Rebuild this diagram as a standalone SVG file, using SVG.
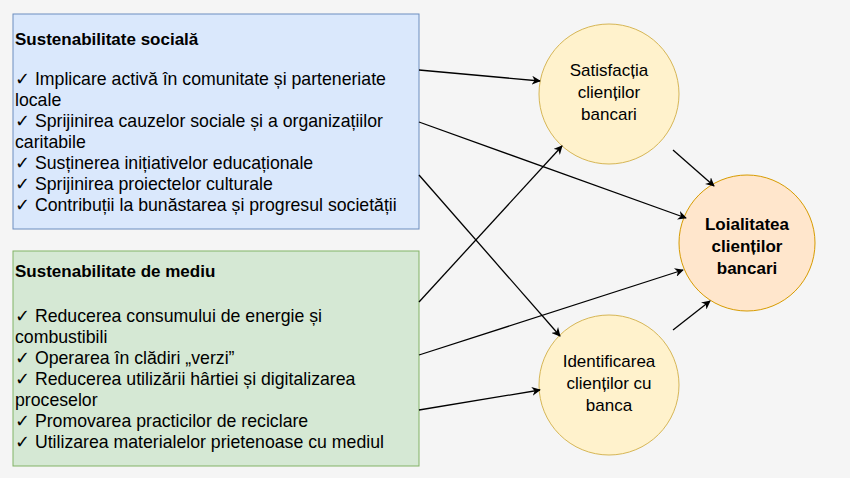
<svg xmlns="http://www.w3.org/2000/svg" width="850" height="478" viewBox="0 0 850 478">
<style>
text{font-family:"Liberation Sans",Arial,sans-serif;font-size:17.7px;fill:#000}
.b{font-weight:bold}
.c{font-size:17px}
.e{stroke:#000;stroke-width:1.3;fill:none;marker-end:url(#a)}
</style>
<defs><marker id="a" viewBox="0 0 10 10" refX="9" refY="5" markerWidth="9" markerHeight="9" orient="auto" markerUnits="userSpaceOnUse"><path d="M0,0 L10,5 L0,10 L3,5 Z" fill="#000"/></marker></defs>
<rect width="850" height="478" fill="#f5f5f5"/>
<g id="social">
<rect x="13" y="14" width="406" height="215" fill="#dae8fc" stroke="#6c8ebf"/>
<text x="15" y="45" class="b" style="font-size:17px">Sustenabilitate socială</text>
<text x="15" y="85">✓ Implicare activă în comunitate și parteneriate</text>
<text x="15" y="106">locale</text>
<text x="15" y="127">✓ Sprijinirea cauzelor sociale și a organizațiilor</text>
<text x="15" y="148">caritabile</text>
<text x="15" y="169">✓ Susținerea inițiativelor educaționale</text>
<text x="15" y="190">✓ Sprijinirea proiectelor culturale</text>
<text x="15" y="211">✓ Contribuții la bunăstarea și progresul societății</text>
</g>
<g id="mediu">
<rect x="13" y="251" width="406" height="215" fill="#d5e8d4" stroke="#82b366"/>
<text x="15" y="277" class="b" style="font-size:17px">Sustenabilitate de mediu</text>
<text x="15" y="322">✓ Reducerea consumului de energie și</text>
<text x="15" y="343">combustibili</text>
<text x="15" y="364">✓ Operarea în clădiri „verzi”</text>
<text x="15" y="385">✓ Reducerea utilizării hârtiei și digitalizarea</text>
<text x="15" y="406">proceselor</text>
<text x="15" y="427">✓ Promovarea practicilor de reciclare</text>
<text x="15" y="448">✓ Utilizarea materialelor prietenoase cu mediul</text>
</g>
<g id="satisfactia">
<circle cx="609" cy="94" r="70" fill="#fff2cc" stroke="#d6b656"/>
<text x="609" y="76" text-anchor="middle" class="c">Satisfacția</text>
<text x="609" y="98" text-anchor="middle" class="c">clienților</text>
<text x="609" y="120" text-anchor="middle" class="c">bancari</text>
</g>
<g id="loialitatea">
<circle cx="747" cy="243" r="68" fill="#ffe6cc" stroke="#d79b00"/>
<text x="747" y="230" text-anchor="middle" class="c b">Loialitatea</text>
<text x="747" y="252" text-anchor="middle" class="c b">clienților</text>
<text x="747" y="274" text-anchor="middle" class="c b">bancari</text>
</g>
<g id="identificarea">
<circle cx="609" cy="385" r="70" fill="#fff2cc" stroke="#d6b656"/>
<text x="609" y="367" text-anchor="middle" class="c">Identificarea</text>
<text x="609" y="389" text-anchor="middle" class="c">clienților cu</text>
<text x="609" y="411" text-anchor="middle" class="c">banca</text>
</g>
<g id="connectors">
<path class="e" d="M419,70 L540,81"/>
<path class="e" d="M419,122 L686,218"/>
<path class="e" d="M419,175 L560,336"/>
<path class="e" d="M419,302 L562,146"/>
<path class="e" d="M419,355 L683,270"/>
<path class="e" d="M419,410 L540,390"/>
<path class="e" d="M673,150 L714,186"/>
<path class="e" d="M673,330 L710,301"/>
</g>
</svg>
